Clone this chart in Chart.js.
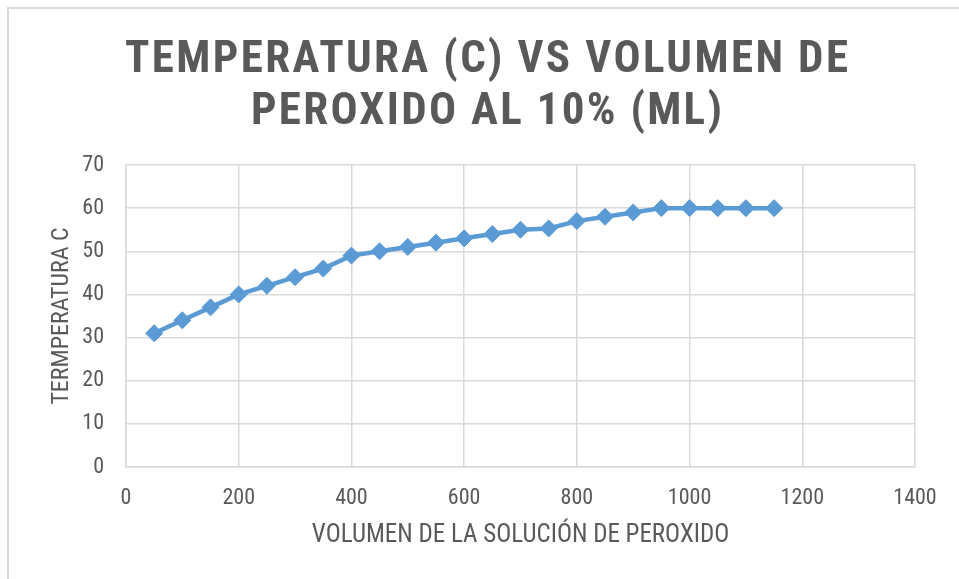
<!DOCTYPE html>
<html>
<head>
<meta charset="utf-8">
<script src="https://cdn.jsdelivr.net/npm/chart.js@4.4.1/dist/chart.umd.min.js"></script>
<style>
html,body{margin:0;padding:0;background:#fff;}
#wrap{width:959px;height:579px;position:relative;}
</style>
</head>
<body>
<div id="wrap"><canvas id="c" width="959" height="579"></canvas></div>
<script>
const titleLines = ["TEMPERATURA (C) VS VOLUMEN DE", "PEROXIDO AL 10% (ML)"];
const xTitle = "VOLUMEN DE LA SOLUCIÓN DE PEROXIDO";
const yTitle = "TERMPERATURA C";
const volumen = [50,100,150,200,250,300,350,400,450,500,550,600,650,700,750,800,850,900,950,1000,1050,1100,1150];
const temperatura = [31,34,37,40,42,44,46,49,50,51,52,53,54,55,55.3,57,58,59,60,60,60,60,60];
const xTicks = [0,200,400,600,800,1000,1200,1400];
const yTicks = [0,10,20,30,40,50,60,70];

const TXT = '#595959', GRID = '#d9d9d9', BLUE = '#5b9bd5';
const FONT = '"Roboto Condensed", "DejaVu Sans Condensed", sans-serif';

const framePlugin = {
  id: 'frame',
  beforeDraw(chart) {
    const ctx = chart.ctx;
    ctx.save();
    ctx.fillStyle = '#fff';
    ctx.fillRect(0, 0, chart.width, chart.height);
    ctx.strokeStyle = GRID;
    ctx.lineWidth = 2;
    ctx.beginPath();
    ctx.moveTo(8, chart.height + 5);
    ctx.lineTo(8, 8);
    ctx.lineTo(chart.width + 5, 8);
    ctx.stroke();
    ctx.restore();
  },
  afterDraw(chart) {
    const ctx = chart.ctx;
    ctx.save();
    ctx.fillStyle = TXT;
    ctx.font = 'bold 45px ' + FONT;
    ctx.textBaseline = 'alphabetic';
    ctx.textAlign = 'left';
    const targets = [[125, 848, 72], [251, 722, 124]];
    titleLines.forEach((t, i) => {
      ctx.letterSpacing = '0px';
      const w = ctx.measureText(t).width;
      const [x0, x1, base] = targets[i];
      const sp = (x1 - x0 - w) / (t.length - 1);
      ctx.letterSpacing = sp + 'px';
      ctx.fillText(t, x0, base);
    });
    ctx.restore();
  }
};

new Chart(document.getElementById('c'), {
  type: 'scatter',
  data: {
    datasets: [{
      data: volumen.map((v, i) => ({x: v, y: temperatura[i]})),
      showLine: true,
      borderColor: BLUE,
      backgroundColor: BLUE,
      borderWidth: 4.5,
      pointStyle: 'rectRot',
      pointRadius: 8.5,
      pointBorderWidth: 1,
      pointHoverRadius: 8.5
    }]
  },
  options: {
    responsive: false,
    animation: false,
    events: [],
    layout: {padding: {top: 165, right: 44, left: 48, bottom: 0}},
    plugins: {legend: {display: false}, title: {display: false}, tooltip: {enabled: false}},
    scales: {
      x: {
        type: 'linear', min: 0, max: 1400,
        afterBuildTicks(s) { s.ticks = xTicks.map(v => ({value: v})); },
        afterFit(s) { s.height = 112; },
        grid: {color: GRID, lineWidth: 1.5, drawTicks: false},
        border: {display: true, color: GRID, width: 1.5},
        ticks: {color: TXT, font: {family: FONT, size: 22}, padding: 18, maxRotation: 0, callback: v => String(v)},
        title: {display: true, text: xTitle, color: TXT, font: {family: FONT, size: 25}, padding: {top: 0, bottom: 28}}
      },
      y: {
        type: 'linear', min: 0, max: 70,
        afterBuildTicks(s) { s.ticks = yTicks.map(v => ({value: v})); },
        afterFit(s) { s.width = 78; },
        grid: {color: GRID, lineWidth: 1.5, drawTicks: false},
        border: {display: true, color: GRID, width: 1.5},
        ticks: {color: TXT, font: {family: FONT, size: 22}, padding: 22, callback: v => String(v)},
        title: {display: true, text: yTitle, color: TXT, font: {family: FONT, size: 24}, padding: 0}
      }
    }
  },
  plugins: [framePlugin]
});
</script>
</body>
</html>
